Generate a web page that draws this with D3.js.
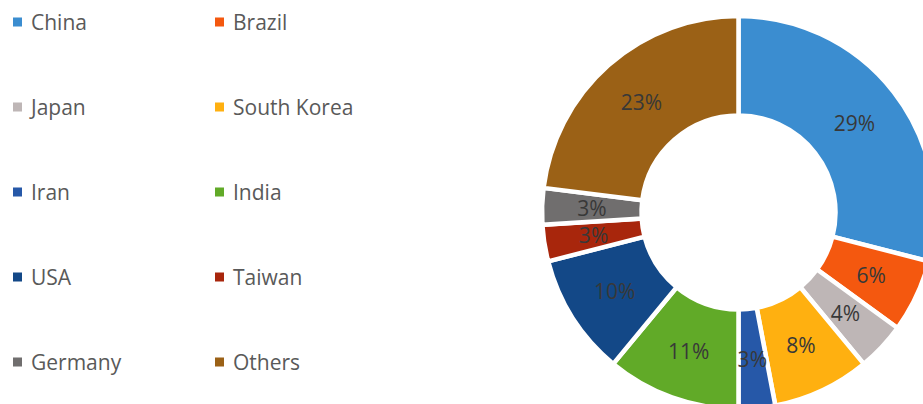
<!DOCTYPE html>
<html>
<head>
<meta charset="utf-8">
<script src="https://cdn.jsdelivr.net/npm/d3@7"></script>
<style>
  html, body { margin: 0; padding: 0; background: #fff; }
  svg { display: block; }
  text { font-family: "Open Sans", sans-serif; }
</style>
</head>
<body>
<svg id="chart" width="923" height="404"></svg>
<script>
const countries = ["China", "Brazil", "Japan", "South Korea", "Iran", "India", "USA", "Taiwan", "Germany", "Others"];
const shares = [29, 6, 4, 8, 3, 11, 10, 3, 3, 23];
const colors = ["#3B8DD0", "#F4580F", "#BEB6B6", "#FFB010", "#2658A8", "#61AA28", "#134887", "#A8260C", "#706E6E", "#9B6116"];

const data = countries.map((c, i) => ({ name: c, value: shares[i], color: colors[i] }));

const svg = d3.select("#chart");
const cx = 738.5, cy = 212.5;
const outerR = 196.5, innerR = 97;

const pie = d3.pie().sort(null).value(d => d.value).startAngle(0).endAngle(2 * Math.PI);
const arc = d3.arc().innerRadius(innerR).outerRadius(outerR);

const g = svg.append("g").attr("transform", `translate(${cx},${cy})`);
const arcs = pie(data);

g.selectAll("path.slice")
  .data(arcs)
  .join("path")
  .attr("class", "slice")
  .attr("d", arc)
  .attr("fill", d => d.data.color)
  .attr("stroke", "#ffffff")
  .attr("stroke-width", 4.5)
  .attr("stroke-linejoin", "miter");

g.selectAll("text.lbl")
  .data(arcs)
  .join("text")
  .attr("class", "lbl")
  .attr("transform", d => `translate(${arc.centroid(d)})`)
  .attr("text-anchor", "middle")
  .attr("dominant-baseline", "central")
  .attr("font-size", 21)
  .attr("fill", "#383838")
  .text(d => d3.format(".0%")(d.data.value / 100));

// Legend
const legend = svg.append("g");
const colX = d3.scaleOrdinal().domain([0, 1]).range([13, 215]);
const rowY = d3.scaleLinear().domain([0, 4]).range([22, 362]);

const items = legend.selectAll("g.item")
  .data(data)
  .join("g")
  .attr("class", "item")
  .attr("transform", (d, i) => `translate(${colX(i % 2)},${rowY(Math.floor(i / 2))})`);

items.append("rect")
  .attr("x", 0).attr("y", -4.5)
  .attr("width", 9).attr("height", 9)
  .attr("fill", d => d.color);

items.append("text")
  .attr("x", 18)
  .attr("y", 0)
  .attr("dominant-baseline", "central")
  .attr("font-size", 21)
  .attr("fill", "#595959")
  .text(d => d.name);
</script>
</body>
</html>
